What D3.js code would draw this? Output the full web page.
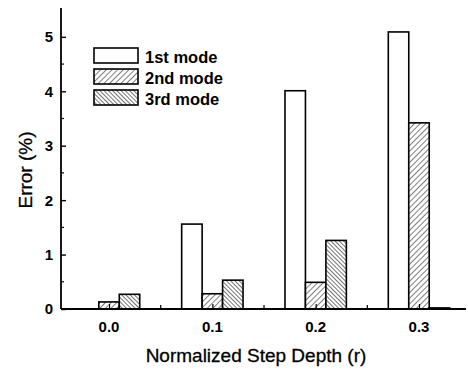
<!DOCTYPE html>
<html><head><meta charset="utf-8">
<script src="https://cdn.jsdelivr.net/npm/d3@7"></script>
<style>body{margin:0;background:#fff}svg{display:block;font-family:"Liberation Sans",Arial,sans-serif}</style>
</head><body><svg id="c" width="468" height="370"></svg>
<script>
const categories = [0.0, 0.1, 0.2, 0.3];
const tickLabels = ["0.0", "0.1", "0.2", "0.3"];
const seriesNames = ["1st mode", "2nd mode", "3rd mode"];
const mode1 = [0.0, 1.56, 4.01, 5.09];
const mode2 = [0.13, 0.28, 0.49, 3.42];
const mode3 = [0.27, 0.53, 1.26, 0.02];
const yTicks = [0, 1, 2, 3, 4, 5];

const svg = d3.select("#c");
const x = d3.scaleLinear().domain([-0.0465, 0.3455]).range([61, 466]);
const y = d3.scaleLinear().domain([0, 5.53]).range([309, 8]);
const barW = 0.0198;
const offsets = [-barW, 0, barW];

const defs = svg.append("defs");
function hatch(id, dir, spacing, sw) {
  const p = defs.append("pattern").attr("id", id).attr("patternUnits", "userSpaceOnUse")
    .attr("width", spacing).attr("height", spacing)
    .attr("patternTransform", `rotate(${dir})`);
  p.append("rect").attr("width", spacing).attr("height", spacing).attr("fill", "#fff");
  p.append("line").attr("x1", 0).attr("y1", 0).attr("x2", 0).attr("y2", spacing)
    .attr("stroke", "#000").attr("stroke-width", sw);
}
hatch("h2", 45, 4, 1);
hatch("h3", -45, 3, 1.1);
const fills = ["#fff", "url(#h2)", "url(#h3)"];
const series = [mode1, mode2, mode3];

// bars
series.forEach((vals, s) => {
  svg.append("g").selectAll("rect").data(vals).join("rect")
    .attr("x", (d, i) => x(categories[i] + offsets[s] - barW / 2))
    .attr("width", x(barW) - x(0))
    .attr("y", d => y(d))
    .attr("height", d => y(0) - y(d))
    .attr("fill", fills[s]).attr("stroke", "#000").attr("stroke-width", 1.6);
});

// y axis
const yAxis = d3.axisRight(y).tickValues(yTicks).tickSize(5).tickFormat(d3.format("d"));
const gy = svg.append("g").attr("transform", "translate(61,0)").call(yAxis);
gy.select(".domain").remove();
gy.selectAll(".tick text").remove();
gy.selectAll(".tick line").attr("stroke-width", 1.4);
svg.append("line").attr("x1", 61).attr("x2", 61).attr("y1", y(5.53)).attr("y2", y(0))
  .attr("stroke", "#000").attr("stroke-width", 1.8);
svg.append("g").selectAll("line").data(d3.range(0.5, 5.5, 1)).join("line")
  .attr("x1", 61).attr("x2", 64).attr("y1", d => y(d)).attr("y2", d => y(d))
  .attr("stroke", "#000").attr("stroke-width", 1.2);
svg.append("g").selectAll("text").data(yTicks).join("text")
  .attr("x", 53).attr("y", d => y(d)).attr("dy", "0.36em").attr("text-anchor", "end")
  .attr("font-size", 15).attr("font-weight", "bold").text(d => d);

// x axis
svg.append("line").attr("x1", 61).attr("x2", 466).attr("y1", 309).attr("y2", 309)
  .attr("stroke", "#000").attr("stroke-width", 1.8);
const xAxis = d3.axisTop(x).tickValues(categories).tickSize(5).tickFormat((d, i) => tickLabels[i]);
const gx = svg.append("g").attr("transform", "translate(0,309)").call(xAxis);
gx.select(".domain").remove();
gx.selectAll(".tick text").remove();
gx.selectAll(".tick line").attr("stroke-width", 1.2);
svg.append("g").selectAll("line").data([0.05, 0.15, 0.25]).join("line")
  .attr("x1", d => x(d)).attr("x2", d => x(d)).attr("y1", 309).attr("y2", 305)
  .attr("stroke", "#000").attr("stroke-width", 1.2);
svg.append("g").selectAll("text").data(categories).join("text")
  .attr("x", d => x(d)).attr("y", 332).attr("text-anchor", "middle")
  .attr("font-size", 15).attr("font-weight", "bold").text((d, i) => tickLabels[i]);

// axis titles
svg.append("text").attr("x", 256).attr("y", 362).attr("text-anchor", "middle")
  .attr("font-size", 19).attr("stroke", "#000").attr("stroke-width", 0.3).text("Normalized Step Depth (r)");
svg.append("text").attr("transform", "translate(32,170) rotate(-90)").attr("text-anchor", "middle")
  .attr("font-size", 19).attr("stroke", "#000").attr("stroke-width", 0.3).text("Error (%)");

// legend
const lg = svg.append("g");
seriesNames.forEach((n, i) => {
  const top = 48 + i * 21;
  lg.append("rect").attr("x", 94).attr("y", top).attr("width", 44).attr("height", 15)
    .attr("fill", fills[i]).attr("stroke", "#000").attr("stroke-width", 1.6);
  lg.append("text").attr("x", 145).attr("y", top + 14.5).attr("font-size", 16.5)
    .attr("font-weight", "bold").text(n);
});
</script></body></html>
